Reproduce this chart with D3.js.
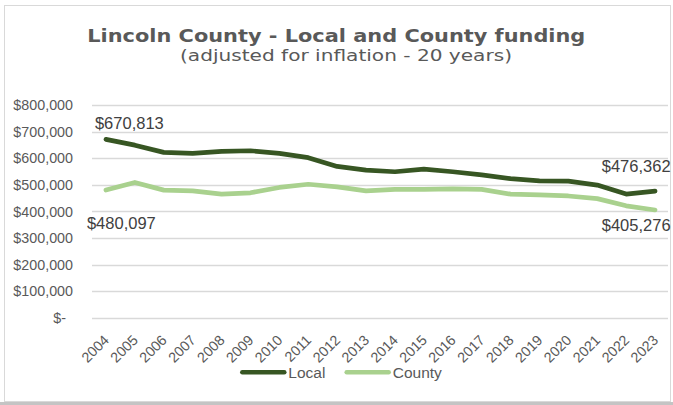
<!DOCTYPE html>
<html>
<head>
<meta charset="utf-8">
<script src="https://cdn.jsdelivr.net/npm/d3@7"></script>
<style>
  html, body { margin: 0; padding: 0; background: #fff; }
  svg { display: block; }
</style>
</head>
<body>
<svg id="chart" width="673" height="405"></svg>
<script>
// Funding series, inflation adjusted, 2004-2023
const years = ["2004","2005","2006","2007","2008","2009","2010","2011","2012","2013",
               "2014","2015","2016","2017","2018","2019","2020","2021","2022","2023"];
const localFunding = [670813, 649000, 622000, 618000, 626000, 628000, 618000, 602000, 569000, 555000,
                      549000, 559000, 549000, 537000, 523000, 515000, 514000, 499000, 465000, 476362];
const countyFunding = [480097, 509000, 480000, 477000, 465000, 470000, 490000, 502000, 492000, 477000,
                       483000, 483000, 485000, 483000, 465000, 462000, 458000, 448000, 421000, 405276];
const yTicks = [0, 100000, 200000, 300000, 400000, 500000, 600000, 700000, 800000];
const seriesNames = ["Local", "County"];
const seriesColors = ["#375623", "#a9d18e"];

const svg = d3.select("#chart");
const axisFont = "'Liberation Sans', Arial, sans-serif";

// frame
svg.append("rect").attr("x", 4.5).attr("y", 5.5).attr("width", 666).attr("height", 396)
  .attr("fill", "#fff").attr("stroke", "#d9d9d9");
svg.append("rect").attr("x", 0).attr("y", 402).attr("width", 673).attr("height", 3)
  .attr("fill", "#c4c4c4");

const x = d3.scalePoint().domain(years).range([91.5, 669.5]).padding(0.5);
const y = d3.scaleLinear().domain([0, 800000]).range([317.8, 105]);

// gridlines
svg.append("g").selectAll("line").data(yTicks).join("line")
  .attr("x1", 92).attr("x2", 668)
  .attr("y1", d => Math.round(y(d)) + 0.5).attr("y2", d => Math.round(y(d)) + 0.5)
  .attr("stroke", "#d9d9d9").attr("stroke-width", 1.3);

// y axis labels
const fmt = d => d === 0 ? "$-" : "$" + d3.format(",")(d);
svg.append("g").selectAll("text").data(yTicks).join("text")
  .attr("x", d => d === 0 ? 66 : 73)
  .attr("y", d => y(d)).attr("dy", "0.36em")
  .attr("text-anchor", "end")
  .attr("font-family", axisFont).attr("font-size", 14.3).attr("fill", "#595959")
  .text(fmt);

// x axis labels, rotated
svg.append("g").selectAll("text").data(years).join("text")
  .attr("transform", d => `translate(${x(d) + 4},341) rotate(-45)`)
  .attr("text-anchor", "end")
  .attr("font-family", axisFont).attr("font-size", 14.3).attr("fill", "#595959")
  .text(d => d);

// lines
const seriesData = [localFunding, countyFunding];
const line = d3.line().x((d, i) => x(years[i])).y(d => y(d));
svg.append("g").selectAll("path").data(seriesData).join("path")
  .attr("d", line)
  .attr("fill", "none")
  .attr("stroke", (d, i) => seriesColors[i])
  .attr("stroke-width", 4.7)
  .attr("stroke-linejoin", "round")
  .attr("stroke-linecap", "round");

// endpoint value labels
const last = years.length - 1;
const endLabels = [
  { v: localFunding[0], i: 0, dx: -11, dy: -16 },
  { v: countyFunding[0], i: 0, dx: -19, dy: 32.6 },
  { v: localFunding[last], i: last, dx: -53.3, dy: -25 },
  { v: countyFunding[last], i: last, dx: -53.3, dy: 15 }
];
svg.append("g").selectAll("text").data(endLabels).join("text")
  .attr("x", d => x(years[d.i]) + d.dx)
  .attr("y", d => y(d.v) + d.dy)
  .attr("dy", "0.36em")
  .attr("font-family", axisFont).attr("font-size", 16.5).attr("fill", "#404040")
  .text(d => "$" + d3.format(",")(d.v));

// title
svg.append("text")
  .attr("x", 87.3).attr("y", 42)
  .attr("font-family", "'DejaVu Sans', Verdana, sans-serif")
  .attr("font-weight", "bold").attr("font-size", 18)
  .attr("fill", "#595959")
  .attr("textLength", 498).attr("lengthAdjust", "spacingAndGlyphs")
  .text("Lincoln County - Local and County funding");

svg.append("text")
  .attr("x", 180).attr("y", 61)
  .attr("font-family", "'DejaVu Sans', Verdana, sans-serif")
  .attr("font-size", 15.5)
  .attr("fill", "#595959")
  .attr("textLength", 332).attr("lengthAdjust", "spacingAndGlyphs")
  .text("(adjusted for inflation - 20 years)");

// legend
const legendX = [242.3, 346.7];
const lg = svg.append("g").selectAll("g").data(seriesNames).join("g")
  .attr("transform", (d, i) => `translate(${legendX[i]},372.3)`);
lg.append("line").attr("x1", 0).attr("x2", 42).attr("y1", 0).attr("y2", 0)
  .attr("stroke", (d, i) => seriesColors[i]).attr("stroke-width", 4.5)
  .attr("stroke-linecap", "round");
lg.append("text").attr("x", 46).attr("y", 5.4)
  .attr("font-family", axisFont).attr("font-size", 15.5).attr("fill", "#595959")
  .text(d => d);
</script>
</body>
</html>
